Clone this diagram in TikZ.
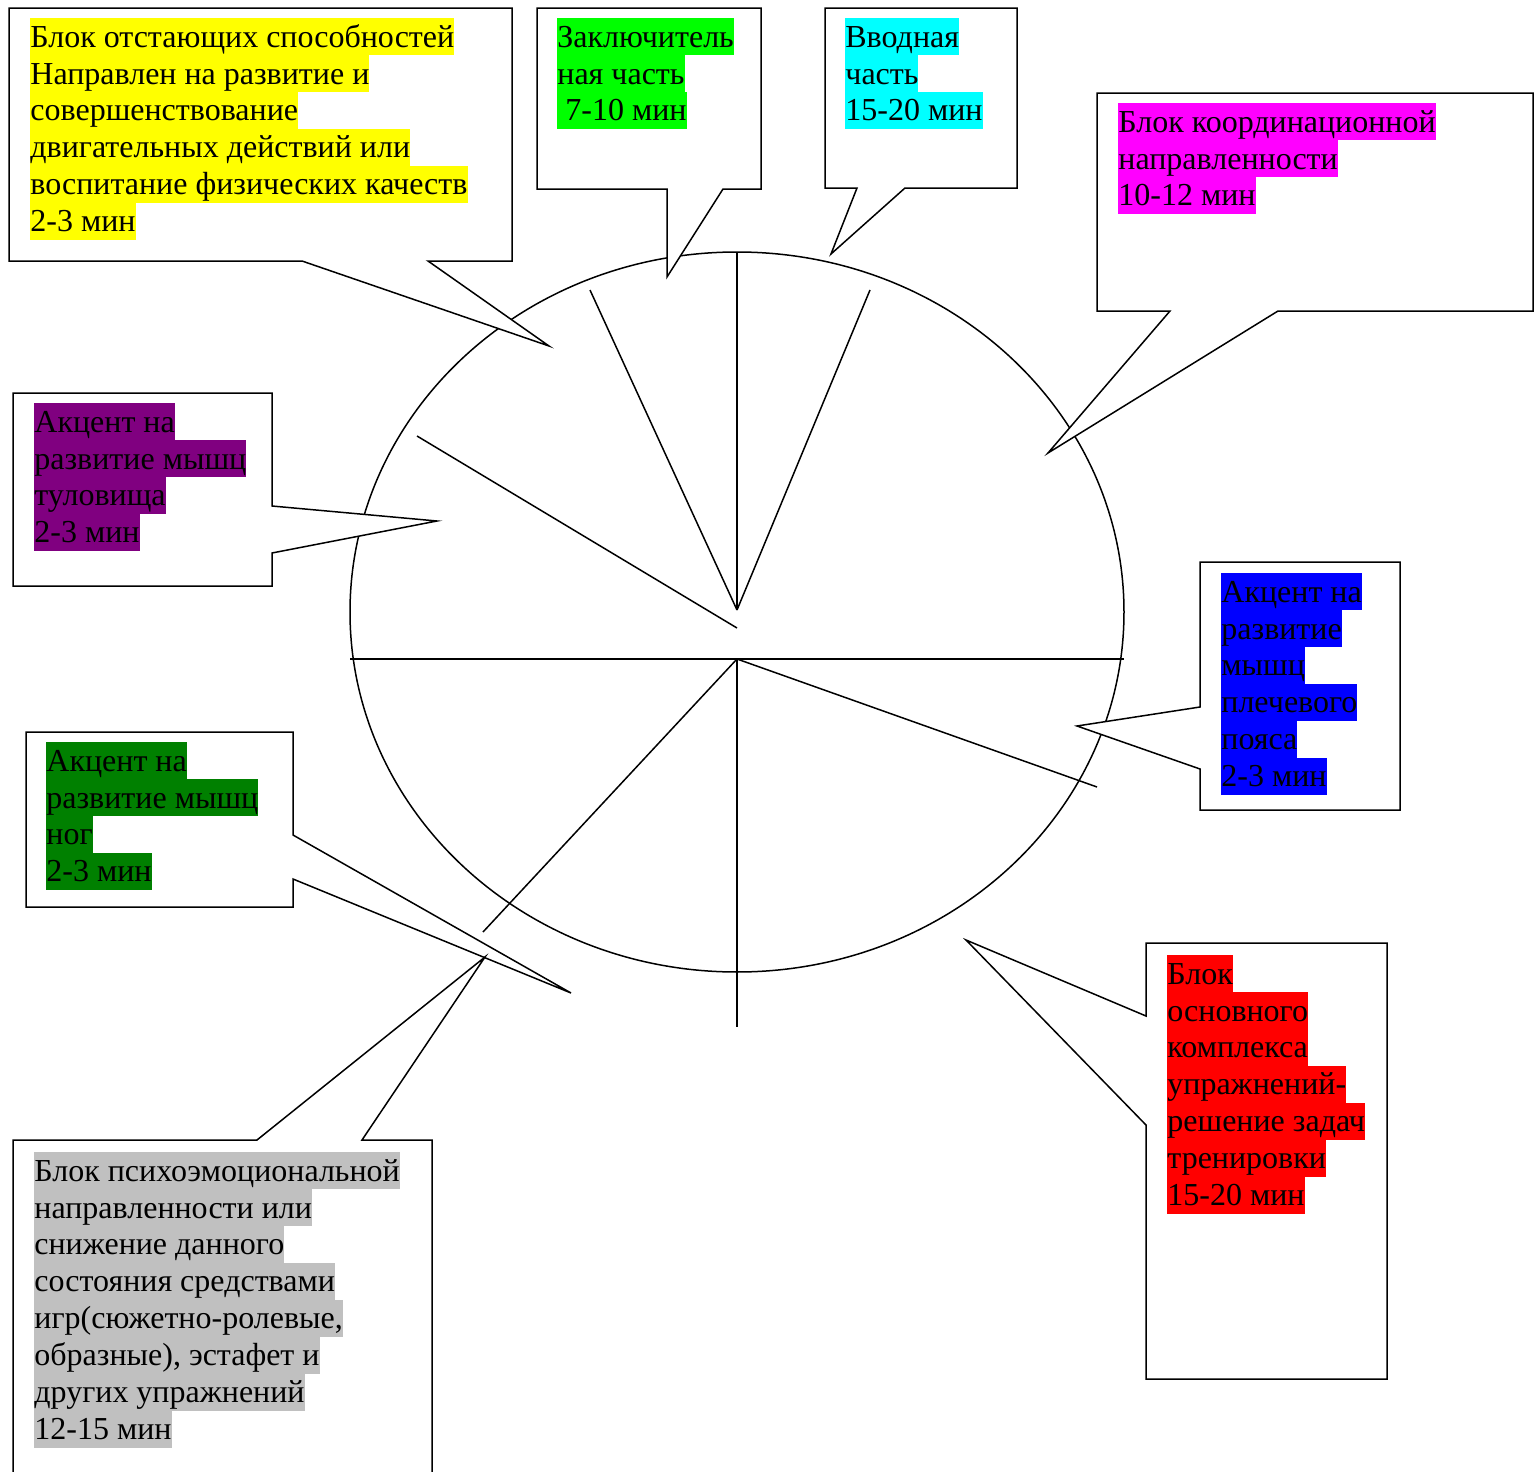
\documentclass[tikz,border=0pt]{standalone}
\usepackage{fontspec}
\setmainfont{Liberation Serif}
\usepackage{tikz}
\usetikzlibrary{calc}

\definecolor{hlyellow}{RGB}{255,255,0}
\definecolor{hlgreen}{RGB}{0,255,0}
\definecolor{hlcyan}{RGB}{0,255,255}
\definecolor{hlmagenta}{RGB}{255,0,255}
\definecolor{hlpurple}{RGB}{128,0,128}
\definecolor{hlblue}{RGB}{0,0,255}
\definecolor{hldarkgreen}{RGB}{0,128,0}
\definecolor{hlred}{RGB}{255,0,0}
\definecolor{hlgray}{RGB}{192,192,192}

\newcommand{\hl}[2]{{\setlength{\fboxsep}{0pt}\colorbox{#1}{\rule[-4.1pt]{0pt}{18.45pt}#2}}}

\tikzset{
  callout/.style={draw, fill=white, line width=0.75pt, line join=miter},
  spoke/.style={line width=0.75pt},
  textblock/.style={anchor=north west, inner sep=0pt, align=left,
    font=\fontsize{16}{18.45}\selectfont}
}

\begin{document}
\begin{tikzpicture}[x=0.5pt, y=-0.5pt]
                \useasboundingbox (0,0) rectangle (1539,1472);

                % Disk
                \coordinate (C) at (737,612);
                \draw[spoke] (C) ellipse [x radius=193.5pt, y radius=180pt];

                % Centres of the spokes
                \coordinate (Ot) at (737,610);
                \coordinate (O) at (737,659);

                % Upper spokes
                \draw[spoke] (737,252) -- (Ot);
                \draw[spoke] (590,290) -- (Ot);
                \draw[spoke] (870,290) -- (Ot);
                \draw[spoke] (417,436) -- (737,628);

                % Lower spokes
                \draw[spoke] (350,659) -- (1124,659);
                \draw[spoke] (O) -- (483,932);
                \draw[spoke] (O) -- (737,1027);
                \draw[spoke] (O) -- (1097,787);

                % Callouts
                \draw[callout] (9,8) -- (512,8) -- (512,261) -- (428,261) -- (549,346) -- (302,261) -- (9,261) -- cycle;
                \draw[callout] (537,8) -- (761,8) -- (761,189) -- (723,189) -- (667,277) -- (667,189) -- (537,189) -- cycle;
                \draw[callout] (825,8) -- (1017,8) -- (1017,188) -- (905,188) -- (831,254) -- (857,188) -- (825,188) -- cycle;
                \draw[callout] (1097,93) -- (1533,93) -- (1533,311) -- (1278,311) -- (1048,453) -- (1170,311) -- (1097,311) -- cycle;
                \draw[callout] (13,393) -- (272,393) -- (272,506) -- (437,521) -- (272,553) -- (272,586) -- (13,586) -- cycle;
                \draw[callout] (1200,562) -- (1400,562) -- (1400,810) -- (1200,810) -- (1200,769) -- (1077,726) -- (1200,707) -- cycle;
                \draw[callout] (26,732) -- (293,732) -- (293,835) -- (571,993) -- (293,879) -- (293,907) -- (26,907) -- cycle;
                \draw[callout] (1146,943) -- (1387,943) -- (1387,1379) -- (1146,1379) -- (1146,1125) -- (966,940) -- (1146,1016) -- cycle;
                \draw[callout] (13,1140) -- (257,1140) -- (485,957) -- (362,1140) -- (432,1140) -- (432,1490) -- (13,1490) -- cycle;

                % Labels
                \node[textblock] (lagging) at (30,18) {\hl{hlyellow}{Блок отстающих способностей}\\
                  \hl{hlyellow}{Направлен на развитие и}\\
                  \hl{hlyellow}{совершенствование}\\
                  \hl{hlyellow}{двигательных действий или}\\
                  \hl{hlyellow}{воспитание физических качеств}\\
                  \hl{hlyellow}{2-3 мин}};
                \node[textblock] (final) at (557,18) {\hl{hlgreen}{Заключитель}\\
                  \hl{hlgreen}{ная часть}\\
                  \hl{hlgreen}{~7-10 мин}};
                \node[textblock] (intro) at (845,18) {\hl{hlcyan}{Вводная}\\
                  \hl{hlcyan}{часть}\\
                  \hl{hlcyan}{15-20 мин}};
                \node[textblock] (coord) at (1118,103) {\hl{hlmagenta}{Блок координационной}\\
                  \hl{hlmagenta}{направленности}\\
                  \hl{hlmagenta}{10-12 мин}};
                \node[textblock] (trunk) at (34,403) {\hl{hlpurple}{Акцент на}\\
                  \hl{hlpurple}{развитие мышц}\\
                  \hl{hlpurple}{туловища}\\
                  \hl{hlpurple}{2-3 мин}};
                \node[textblock] (shoulder) at (1221,573) {\hl{hlblue}{Акцент на}\\
                  \hl{hlblue}{развитие}\\
                  \hl{hlblue}{мышц}\\
                  \hl{hlblue}{плечевого}\\
                  \hl{hlblue}{пояса}\\
                  \hl{hlblue}{2-3 мин}};
                \node[textblock] (legs) at (46,742) {\hl{hldarkgreen}{Акцент на}\\
                  \hl{hldarkgreen}{развитие мышц}\\
                  \hl{hldarkgreen}{ног}\\
                  \hl{hldarkgreen}{2-3 мин}};
                \node[textblock] (main) at (1167,955) {\hl{hlred}{Блок}\\
                  \hl{hlred}{основного}\\
                  \hl{hlred}{комплекса}\\
                  \hl{hlred}{упражнений-}\\
                  \hl{hlred}{решение задач}\\
                  \hl{hlred}{тренировки}\\
                  \hl{hlred}{15-20 мин}};
                \node[textblock] (psycho) at (34,1152) {\hl{hlgray}{Блок психоэмоциональной}\\
                  \hl{hlgray}{направленности или}\\
                  \hl{hlgray}{снижение данного}\\
                  \hl{hlgray}{состояния средствами}\\
                  \hl{hlgray}{игр(сюжетно-ролевые,}\\
                  \hl{hlgray}{образные), эстафет и}\\
                  \hl{hlgray}{других упражнений}\\
                  \hl{hlgray}{12-15 мин}};
            \end{tikzpicture}
\end{document}
